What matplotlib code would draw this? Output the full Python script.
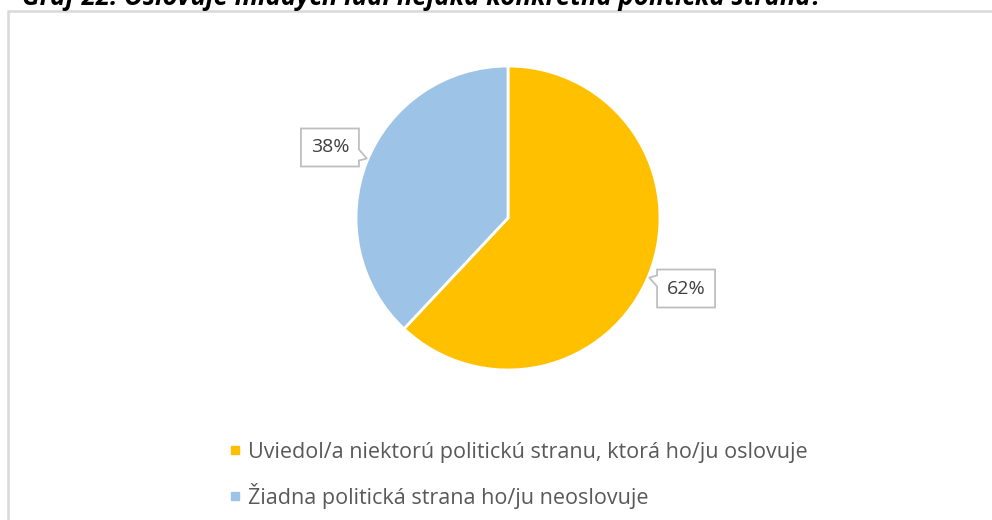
import numpy as np
import matplotlib
matplotlib.use("Agg")
import matplotlib.pyplot as plt
from matplotlib.patches import Rectangle, PathPatch
from matplotlib.path import Path
from matplotlib.lines import Line2D

plt.rcParams['font.family'] = ['Open Sans', 'DejaVu Sans']

title = "Graf 22: Oslovuje mladých ľudí nejaká konkrétna politická strana?"
categories = ["Uviedol/a niektorú politickú stranu, ktorá ho/ju oslovuje",
              "Žiadna politická strana ho/ju neoslovuje"]
values = [62, 38]
colors = ["#FFC000", "#9DC3E6"]

W, H = 992, 520
fig = plt.figure(figsize=(W / 100, H / 100), dpi=100)

# outer chart frame (cut off at right and bottom like the reference)
fig.patches.append(Rectangle((8 / W, -0.1), 1.2, 1.1 - 11 / H, transform=fig.transFigure,
                             fill=False, edgecolor="#D9D9D9", linewidth=1.8))

# title, mostly cropped off at the top
fig.text(22 / W, 1 - 5 / H, title, fontsize=18.5, fontweight="bold", fontstyle="italic",
         color="black", va="baseline", ha="left")

# pie axes: centre (508, 218) px, radius 152 px
cx, cy, r = 508, 218, 152
ax = fig.add_axes([(cx - r) / W, 1 - (cy + r) / H, 2 * r / W, 2 * r / H])
wedges, _ = ax.pie(values, colors=colors, startangle=90, counterclock=False,
                   wedgeprops=dict(edgecolor="white", linewidth=2))
ax.set_xlim(-1, 1)
ax.set_ylim(-1, 1)
ax.set_aspect("auto")
ax.axis("off")

# callout data labels
px = 1.0 / r
hw, hh = 29 * px, 19 * px
for w, v in zip(wedges, values):
    ang = np.deg2rad((w.theta1 + w.theta2) / 2)
    lx, ly = 1.26 * np.cos(ang), 1.26 * np.sin(ang)
    l, rr, b, t = lx - hw, lx + hw, ly - hh, ly + hh
    s = -np.sign(ly)  # pointer shifted toward pie centre vertically
    p1, p2 = ly + s * 2 * px, ly + s * 13 * px
    ptip = ly + s * 11 * px
    lo, hi = min(p1, p2), max(p1, p2)
    if lx < 0:
        verts = [(l, b), (rr, b), (rr, lo), (rr + 8 * px, ptip), (rr, hi), (rr, t), (l, t), (l, b)]
    else:
        verts = [(l, b), (rr, b), (rr, t), (l, t), (l, hi), (l - 8 * px, ptip), (l, lo), (l, b)]
    codes = [Path.MOVETO] + [Path.LINETO] * (len(verts) - 2) + [Path.CLOSEPOLY]
    ax.add_patch(PathPatch(Path(verts, codes), facecolor="white", edgecolor="#BFBFBF",
                           linewidth=1.3, clip_on=False))
    ax.text(lx, ly, f"{v}%", ha="center", va="center", fontsize=14, color="#404040",
            clip_on=False)

# legend
handles = [Line2D([], [], linestyle="none", marker="s", markersize=5.8, color=c) for c in colors]
fig.legend(handles, categories, loc="upper left", bbox_to_anchor=(230 / W, 1 - 442 / H),
           frameon=False, fontsize=15.5, labelcolor="#595959", handlelength=0.44,
           handletextpad=0.4, labelspacing=0.92, borderpad=0, borderaxespad=0)

fig.savefig("out.png", dpi=100)
